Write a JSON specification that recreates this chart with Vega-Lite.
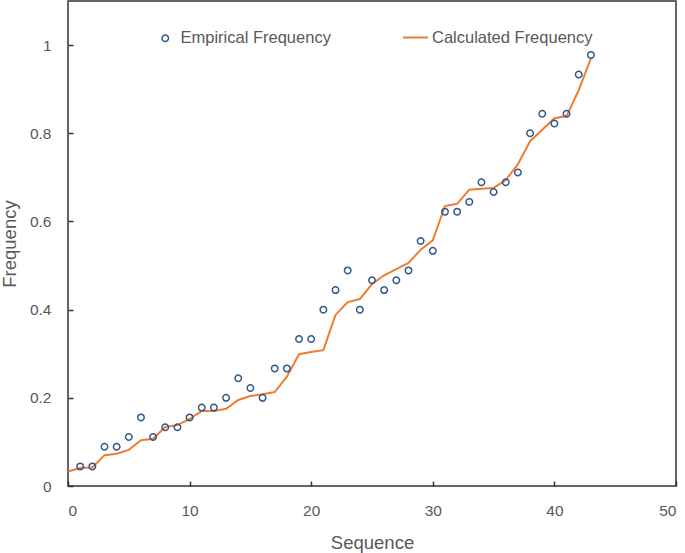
{
  "$schema": "https://vega.github.io/schema/vega-lite/v6.json",
  "autosize": {"type": "none"},
  "padding": {"left": 68, "top": 1, "right": 9, "bottom": 67},
  "width": 608,
  "height": 485,
  "background": "white",
  "config": {
    "view": {"stroke": "#333333", "strokeWidth": 1.5},
    "font": "Liberation Sans",
    "axis": {
      "domain": false,
      "grid": false,
      "tickColor": "#333333",
      "tickWidth": 1.5,
      "tickSize": -5,
      "labelFont": "Liberation Sans",
      "labelFontSize": 15.5,
      "labelColor": "#595959",
      "titleFont": "Liberation Sans",
      "titleFontSize": 18.5,
      "titleFontWeight": "normal",
      "titleColor": "#595959"
    },
    "legend": {
      "labelFont": "Liberation Sans",
      "labelFontSize": 16.5,
      "labelColor": "#595959",
      "labelLimit": 400,
      "padding": 0
    }
  },
  "data": {
    "values": [
      {"seq": 0, "empirical": null, "calculated": 0.033},
      {"seq": 1, "empirical": 0.0444, "calculated": 0.041},
      {"seq": 2, "empirical": 0.0444, "calculated": 0.042},
      {"seq": 3, "empirical": 0.0889, "calculated": 0.07},
      {"seq": 4, "empirical": 0.0889, "calculated": 0.073},
      {"seq": 5, "empirical": 0.1111, "calculated": 0.082},
      {"seq": 6, "empirical": 0.1556, "calculated": 0.104},
      {"seq": 7, "empirical": 0.1111, "calculated": 0.107},
      {"seq": 8, "empirical": 0.1333, "calculated": 0.134},
      {"seq": 9, "empirical": 0.1333, "calculated": 0.138},
      {"seq": 10, "empirical": 0.1556, "calculated": 0.152},
      {"seq": 11, "empirical": 0.1778, "calculated": 0.17},
      {"seq": 12, "empirical": 0.1778, "calculated": 0.17},
      {"seq": 13, "empirical": 0.2, "calculated": 0.175},
      {"seq": 14, "empirical": 0.2444, "calculated": 0.195},
      {"seq": 15, "empirical": 0.2222, "calculated": 0.204},
      {"seq": 16, "empirical": 0.2, "calculated": 0.208},
      {"seq": 17, "empirical": 0.2667, "calculated": 0.213},
      {"seq": 18, "empirical": 0.2667, "calculated": 0.248},
      {"seq": 19, "empirical": 0.3333, "calculated": 0.299},
      {"seq": 20, "empirical": 0.3333, "calculated": 0.304},
      {"seq": 21, "empirical": 0.4, "calculated": 0.308},
      {"seq": 22, "empirical": 0.4444, "calculated": 0.388},
      {"seq": 23, "empirical": 0.4889, "calculated": 0.417},
      {"seq": 24, "empirical": 0.4, "calculated": 0.424},
      {"seq": 25, "empirical": 0.4667, "calculated": 0.458},
      {"seq": 26, "empirical": 0.4444, "calculated": 0.478},
      {"seq": 27, "empirical": 0.4667, "calculated": 0.492},
      {"seq": 28, "empirical": 0.4889, "calculated": 0.506},
      {"seq": 29, "empirical": 0.5556, "calculated": 0.536},
      {"seq": 30, "empirical": 0.5333, "calculated": 0.557},
      {"seq": 31, "empirical": 0.6222, "calculated": 0.635},
      {"seq": 32, "empirical": 0.6222, "calculated": 0.64},
      {"seq": 33, "empirical": 0.6444, "calculated": 0.672},
      {"seq": 34, "empirical": 0.6889, "calculated": 0.674},
      {"seq": 35, "empirical": 0.6667, "calculated": 0.676},
      {"seq": 36, "empirical": 0.6889, "calculated": 0.694},
      {"seq": 37, "empirical": 0.7111, "calculated": 0.73},
      {"seq": 38, "empirical": 0.8, "calculated": 0.782},
      {"seq": 39, "empirical": 0.8444, "calculated": 0.808},
      {"seq": 40, "empirical": 0.8222, "calculated": 0.834},
      {"seq": 41, "empirical": 0.8444, "calculated": 0.839},
      {"seq": 42, "empirical": 0.9333, "calculated": 0.898},
      {"seq": 43, "empirical": 0.9778, "calculated": 0.97}
    ]
  },
  "encoding": {
    "x": {
      "field": "seq",
      "type": "quantitative",
      "scale": {"domain": [0, 50], "nice": false, "zero": false},
      "axis": {"values": [0, 10, 20, 30, 40, 50], "title": "Sequence", "labelPadding": 22, "titlePadding": 15}
    }
  },
  "layer": [
    {
      "mark": {"type": "line", "color": "#ED7D31", "strokeWidth": 2},
      "encoding": {
        "y": {
          "field": "calculated",
          "type": "quantitative",
          "scale": {"domain": [0, 1.1], "nice": false},
          "axis": {"values": [0, 0.2, 0.4, 0.6, 0.8, 1], "format": "~g", "title": "Frequency", "labelPadding": 22, "titlePadding": 10}
        },
        "color": {
          "datum": "Calculated Frequency",
          "scale": {"range": ["#ED7D31"]},
          "legend": {
            "title": null,
            "orient": "none",
            "legendX": 334,
            "legendY": 23,
            "symbolType": "stroke",
            "symbolSize": 625,
            "symbolStrokeWidth": 2,
            "labelOffset": 3
          }
        }
      }
    },
    {
      "mark": {"type": "point", "filled": false, "color": "#2F5B8C", "strokeWidth": 1.5, "size": 42, "opacity": 1},
      "encoding": {
        "y": {"field": "empirical", "type": "quantitative"},
        "shape": {
          "datum": "Empirical Frequency",
          "scale": {"range": ["circle"]},
          "legend": {
            "title": null,
            "orient": "none",
            "legendX": 89,
            "legendY": 29,
            "symbolSize": 42,
            "symbolStrokeWidth": 1.5,
            "symbolStrokeColor": "#2F5B8C",
            "symbolFillColor": "transparent",
            "labelOffset": 7
          }
        }
      }
    }
  ]
}
